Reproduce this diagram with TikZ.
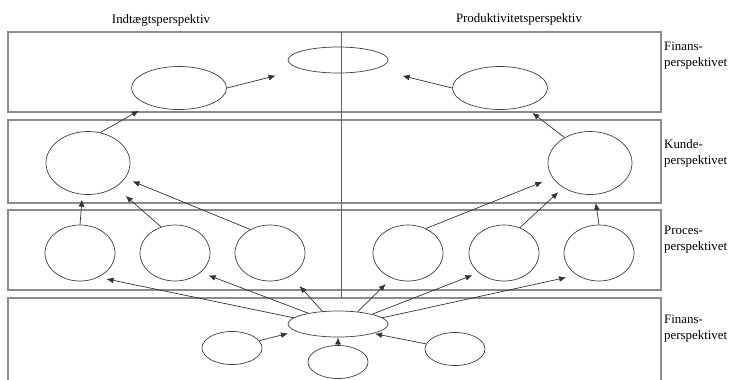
\documentclass[tikz,border=0pt]{standalone}
\usepackage{fontspec}
\setmainfont{Liberation Serif}
\usetikzlibrary{shapes.geometric,arrows.meta}

\tikzset{
  band/.style={draw=black!45, line width=2pt},
  divider/.style={draw=black!60, line width=0.5pt},
  oval/.style={ellipse, draw=black!75, line width=0.6pt, inner sep=0pt},
  flatoval/.style={oval, minimum width=3cm, minimum height=0.78cm},
  finoval/.style={oval, minimum width=2.85cm, minimum height=1.29cm},
  kundeoval/.style={oval, minimum width=2.52cm, minimum height=1.89cm},
  procoval/.style={oval, minimum width=2.1cm, minimum height=1.68cm},
  smalloval/.style={oval, minimum width=1.8cm, minimum height=0.99cm},
  arr/.style={-{Latex[length=6pt,width=5pt]}, draw=black!80, line width=0.6pt},
  head/.style={font=\fontsize{11}{13.6}\selectfont, inner sep=0pt},
  lbl/.style={font=\fontsize{11}{13.6}\selectfont, align=left, anchor=west, inner sep=0pt}
}

\begin{document}
\begin{tikzpicture}[x=0.03cm, y=-0.03cm]
  \useasboundingbox (0,0) rectangle (732,379);

  %% bands
  \draw[band] (8,32)  rectangle (661,112);
  \draw[band] (8,120) rectangle (661,203);
  \draw[band] (8,210) rectangle (661,290);
  \draw[band] (8,298) rectangle (661,395);
  \draw[divider] (341,32) -- (341,298);

  %% headers
  \node[head] (hIndt) at (161,20) {Indtægtsperspektiv};
  \node[head] (hProd) at (519,19) {Produktivitetsperspektiv};

  %% side labels
  \node[lbl] (lFin)    at (664,56)  {Finans-\\perspektivet};
  \node[lbl] (lKunde)  at (664,153) {Kunde-\\perspektivet};
  \node[lbl] (lProces) at (664,240) {Proces-\\perspektivet};
  \node[lbl] (lBase)   at (664,329) {Finans-\\perspektivet};

  %% Finans
  \node[flatoval] (fin)  at (338,60) {};
  \node[finoval]  (finI) at (179,88) {};
  \node[finoval]  (finP) at (500,88) {};

  %% Kunde
  \node[kundeoval] (kundeI) at (88,163)  {};
  \node[kundeoval] (kundeP) at (590,163) {};

  %% Proces
  \node[procoval] (procI1) at (80,253)  {};
  \node[procoval] (procI2) at (175,253) {};
  \node[procoval] (procI3) at (270,253) {};
  \node[procoval] (procP1) at (408,253) {};
  \node[procoval] (procP2) at (504,253) {};
  \node[procoval] (procP3) at (599,253) {};

  %% base
  \node[flatoval]  (base)  at (338,324) {};
  \node[smalloval] (baseL) at (232,348) {};
  \node[smalloval] (baseC) at (338,362) {};
  \node[smalloval] (baseR) at (455,349) {};

  % up to Finans
  \draw[arr, shorten >=0.8cm]  (finI.east) -- (fin);
  \draw[arr, shorten >=0.85cm] (finP.west) -- (fin);
  \draw[arr, shorten >=0.35cm] (kundeI.68) -- (finI);
  \draw[arr, shorten >=0.3cm]  (kundeP.135) -- (finP);

  % up to Kunde
  \draw[arr, shorten >=0.15cm] (procI1.north) -- (kundeI.-100);
  \draw[arr, shorten >=0.4cm]  (procI2.118) -- (kundeI);
  \draw[arr, shorten >=0.24cm] (procI3.130) -- (kundeI);
  \draw[arr, shorten >=0.33cm] (procP1.54) -- (kundeP);
  \draw[arr, shorten >=0.2cm]  (procP2.58) -- (kundeP);
  \draw[arr, shorten >=0.25cm] (procP3.north) -- (kundeP);

  % up to Proces
  \draw[arr, shorten >=0.25cm] (base.172) -- (procI1.-53);
  \draw[arr, shorten >=0.25cm] (base.160) -- (procI2.-37);
  \draw[arr, shorten >=0.4cm]  (base.141) -- (procI3);
  \draw[arr, shorten >=0.25cm] (base.32) -- (procP1.-123);
  \draw[arr, shorten >=0.2cm]  (base.16) -- (procP2.-142);
  \draw[arr, shorten >=0.33cm] (base.8) -- (procP3.-135);

  % into base
  \draw[arr, shorten >=0.25cm] (baseL.15) -- (base.190);
  \draw[arr] (baseC) -- (base);
  \draw[arr, shorten >=0.05cm] (baseR.170) -- (base.-15);
\end{tikzpicture}
\end{document}
